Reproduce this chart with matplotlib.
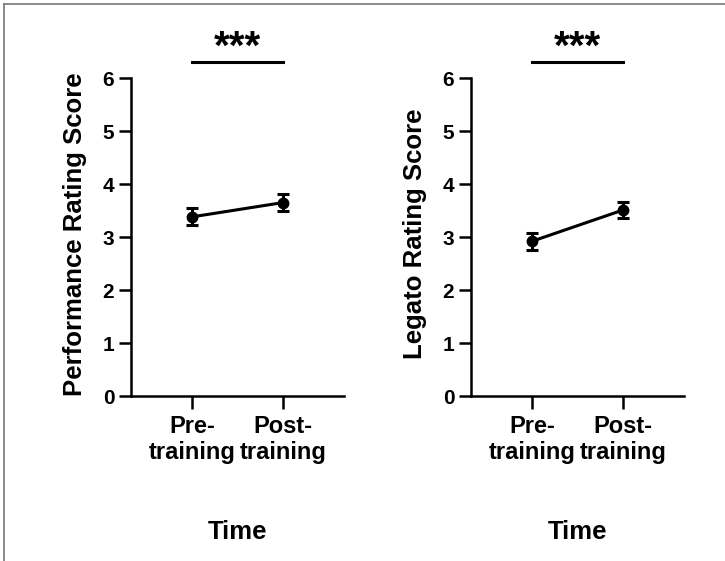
import numpy as np
import matplotlib.pyplot as plt
from matplotlib.lines import Line2D

plt.rcParams['font.family'] = ['Liberation Sans', 'DejaVu Sans']
plt.rcParams['font.weight'] = 'bold'

groups = ['Pre-\ntraining', 'Post-\ntraining']
perf_mean = [3.38, 3.65]
perf_err = [0.16, 0.16]
legato_mean = [2.92, 3.51]
legato_err = [0.16, 0.16]
ylabels = ['Performance Rating Score', 'Legato Rating Score']
sig_text = '***'

fig = plt.figure(figsize=(7.25, 5.61), dpi=100)
ax1 = fig.add_axes([0.1807, 0.2941, 0.2938, 0.5668])
ax2 = fig.add_axes([0.6497, 0.2941, 0.2938, 0.5668])

x = np.arange(len(groups))
for ax, m, e, lab in [(ax1, perf_mean, perf_err, ylabels[0]),
                      (ax2, legato_mean, legato_err, ylabels[1])]:
    ax.errorbar(x, m, yerr=e, color='black', lw=2.2, marker='o', ms=7.5,
                capsize=4, capthick=2.2, elinewidth=2.2)
    ax.set_xlim(-0.67, 1.67)
    ax.set_ylim(0, 6)
    ax.set_yticks(range(7))
    ax.set_xticks(x)
    ax.set_xticklabels(groups, fontsize=17, fontweight='bold', linespacing=1.15)
    ax.tick_params(axis='y', labelsize=15, width=1.8, length=9, pad=3)
    ax.tick_params(axis='x', width=1.8, length=9, pad=5)
    for t in ax.get_yticklabels():
        t.set_fontweight('bold')
    for s in ['top', 'right']:
        ax.spines[s].set_visible(False)
    for s in ['left', 'bottom']:
        ax.spines[s].set_linewidth(1.8)
    ax.set_ylabel(lab, fontsize=18.5, fontweight='bold')
    ax.yaxis.set_label_coords(-0.207, 0.51)
    ax.set_xlabel('Time', fontsize=18.5, fontweight='bold')
    ax.xaxis.set_label_coords(0.5, -0.39)
    # significance bar
    ax.plot([0, 1], [6.3, 6.3], color='black', lw=2.2, clip_on=False)
    ax.text(0.5, 6.58, sig_text, ha='center', va='center', fontsize=29,
            fontweight='bold')

# thin frame on top and left
fig.add_artist(Line2D([0.006, 1], [0.993, 0.993], color='#777777', lw=1.2))
fig.add_artist(Line2D([0.006, 0.006], [0, 0.993], color='#777777', lw=1.2))

fig.savefig('out.png', dpi=100)
